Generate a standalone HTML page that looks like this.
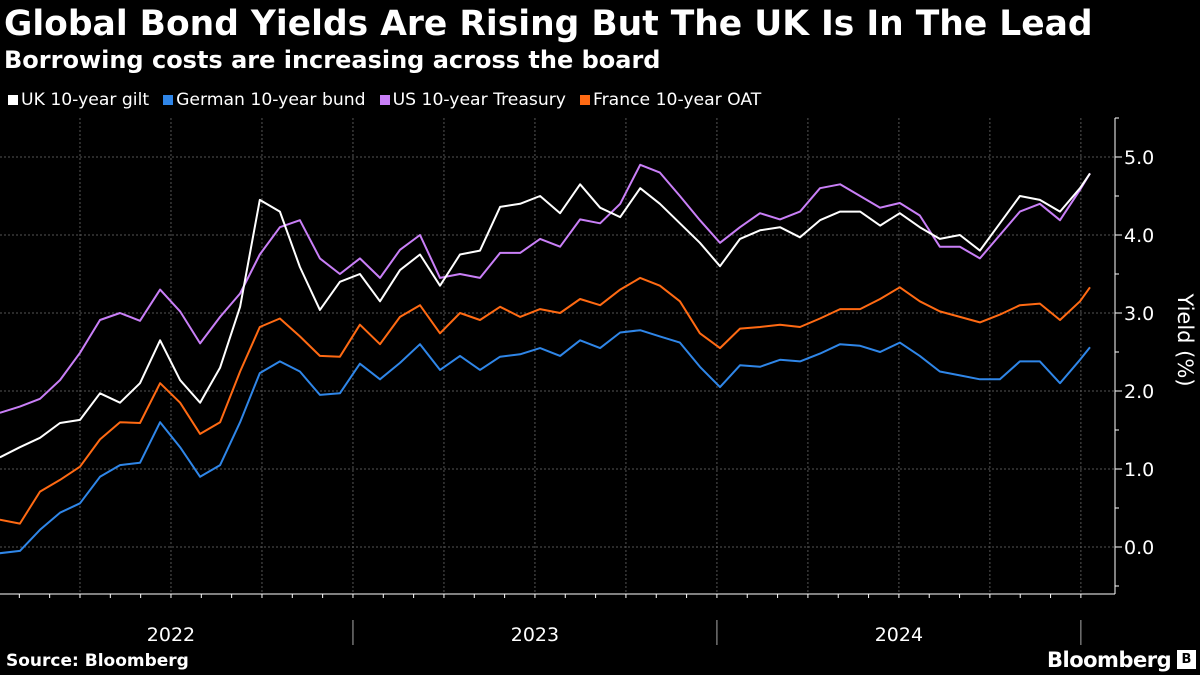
<!DOCTYPE html>
<html>
<head>
<meta charset="utf-8">
<style>
html,body{margin:0;padding:0;background:#000;}
body{width:1200px;height:675px;overflow:hidden;position:relative;font-family:"DejaVu Sans","Liberation Sans",sans-serif;color:#fff;}
#title{position:absolute;left:4px;top:2px;font-size:34.5px;font-weight:bold;white-space:nowrap;line-height:44px;}
#subtitle{position:absolute;left:4px;top:45px;font-size:24px;font-weight:bold;white-space:nowrap;line-height:30px;}
#legend{position:absolute;left:8px;top:89px;font-size:17.2px;white-space:nowrap;display:flex;line-height:22px;}
.li{display:flex;align-items:center;margin-right:14px;}
.sw{width:10px;height:10px;margin-right:3px;display:inline-block;}
#source{position:absolute;left:6px;top:651px;font-size:17px;font-weight:bold;}
#logo{position:absolute;left:1047px;top:648px;font-size:21px;font-weight:bold;letter-spacing:-0.5px;}
#logobox{position:absolute;left:1177px;top:650px;width:19px;height:19px;background:#fff;color:#000;font-size:13px;font-weight:bold;text-align:center;line-height:19px;}
svg{position:absolute;left:0;top:0;}
</style>
</head>
<body>
<div id="title">Global Bond Yields Are Rising But The UK Is In The Lead</div>
<div id="subtitle">Borrowing costs are increasing across the board</div>
<div id="legend">
  <div class="li"><span class="sw" style="background:#ffffff"></span>UK 10-year gilt</div>
  <div class="li"><span class="sw" style="background:#2f86e8"></span>German 10-year bund</div>
  <div class="li"><span class="sw" style="background:#c97ff7"></span>US 10-year Treasury</div>
  <div class="li"><span class="sw" style="background:#ff6a13"></span>France 10-year OAT</div>
</div>
<svg id="chart" width="1200" height="675"></svg>
<div id="source">Source: Bloomberg</div>
<div id="logo">Bloomberg</div>
<div id="logobox">B</div>
<script>
// months since Jan 1 2022
const months = [0.36,1.02,1.68,2.34,3.0,3.66,4.32,4.98,5.64,6.30,6.96,7.62,8.28,8.93,9.59,10.25,10.91,11.57,12.23,12.89,13.55,14.21,14.87,15.53,16.19,16.85,17.51,18.17,18.83,19.49,20.15,20.81,21.47,22.12,22.78,23.44,24.10,24.76,25.42,26.08,26.74,27.40,28.06,28.72,29.38,30.03,30.69,31.35,32.01,32.67,33.33,33.99,34.65,35.31,35.97,36.30];
const ukGilt = [1.15,1.28,1.4,1.59,1.63,1.97,1.85,2.1,2.65,2.14,1.85,2.3,3.08,4.45,4.3,3.59,3.04,3.4,3.5,3.15,3.55,3.75,3.35,3.75,3.8,4.36,4.4,4.5,4.28,4.65,4.35,4.23,4.6,4.4,4.15,3.9,3.6,3.95,4.06,4.1,3.97,4.19,4.3,4.3,4.12,4.28,4.1,3.95,4.0,3.8,4.15,4.5,4.45,4.3,4.6,4.79];
const deBund = [-0.08,-0.05,0.22,0.44,0.56,0.9,1.05,1.08,1.6,1.28,0.9,1.05,1.6,2.23,2.38,2.25,1.95,1.97,2.35,2.15,2.36,2.6,2.27,2.45,2.27,2.44,2.47,2.55,2.45,2.65,2.55,2.75,2.78,2.7,2.62,2.31,2.05,2.33,2.31,2.4,2.38,2.48,2.6,2.58,2.5,2.62,2.45,2.25,2.2,2.15,2.15,2.38,2.38,2.1,2.4,2.56];
const usTreasury = [1.72,1.8,1.9,2.14,2.49,2.91,3.0,2.9,3.3,3.02,2.61,2.95,3.25,3.75,4.1,4.19,3.7,3.5,3.7,3.45,3.81,4.0,3.45,3.5,3.45,3.77,3.77,3.95,3.85,4.2,4.15,4.4,4.9,4.8,4.5,4.19,3.9,4.1,4.28,4.2,4.3,4.6,4.65,4.5,4.35,4.41,4.25,3.85,3.85,3.7,4.0,4.3,4.4,4.19,4.58,4.79];
const frOat = [0.35,0.3,0.71,0.86,1.03,1.38,1.6,1.59,2.1,1.85,1.45,1.6,2.25,2.82,2.93,2.7,2.45,2.44,2.85,2.6,2.95,3.1,2.74,3.0,2.91,3.08,2.95,3.05,3.0,3.18,3.1,3.3,3.45,3.35,3.15,2.74,2.55,2.8,2.82,2.85,2.82,2.93,3.05,3.05,3.18,3.33,3.15,3.02,2.95,2.88,2.98,3.1,3.12,2.91,3.15,3.33];
const yTicks = [0,1,2,3,4,5];
const yTickLabels = ["0.0","1.0","2.0","3.0","4.0","5.0"];
const yearLabels = ["2022","2023","2024"];

const NS="http://www.w3.org/2000/svg";
const svg=document.getElementById('chart');
const X0=-11, PXM=30.33;
const xS=m=>X0+PXM*m;
const yS=v=>547-78*v;
const AXX=1115, TOP=118, BOT=594;
function mk(tag,attrs){const e=document.createElementNS(NS,tag);for(const k in attrs)e.setAttribute(k,attrs[k]);svg.appendChild(e);return e;}

yTicks.forEach((v,i)=>{
  const g=mk('line',{x1:0,x2:AXX,y1:yS(v),y2:yS(v),stroke:'#555','stroke-width':1,'stroke-dasharray':'2,2'});
  
  
  const t=mk('line',{x1:AXX,x2:AXX+7,y1:yS(v),y2:yS(v),stroke:'#fff','stroke-width':1});
  
  
  const l=mk('text',{x:AXX+9,y:yS(v)+7,fill:'#fff','font-size':19,'font-family':'DejaVu Sans, Liberation Sans, sans-serif'});
  l.textContent=yTickLabels[i];
  
  
  const m=mk('line',{x1:AXX,x2:AXX+4,y1:yS(v+0.5),y2:yS(v+0.5),stroke:'#fff','stroke-width':1});
  
  
});
const mm=mk('line',{x1:AXX,x2:AXX+4,y1:yS(-0.5),y2:yS(-0.5),stroke:'#fff','stroke-width':1});


for(let q=1;q<=12;q++){
  const x=xS(q*3);
  const g=mk('line',{x1:x,x2:x,y1:TOP,y2:BOT,stroke:'#555','stroke-width':1,'stroke-dasharray':'2,2'});
  
  
}
const ya=mk('line',{x1:AXX,x2:AXX,y1:TOP,y2:BOT,stroke:'#fff','stroke-width':1});


const xa=mk('line',{x1:0,x2:AXX,y1:BOT,y2:BOT,stroke:'#fff','stroke-width':1});


for(let m=1;m<=36;m++){
  const x=xS(m);
  const t=mk('line',{x1:x,x2:x,y1:BOT,y2:BOT+4,stroke:'#fff','stroke-width':1});
  
  
}
yearLabels.forEach((yl,i)=>{
  const t=mk('text',{x:xS(12*i+6),y:641,fill:'#fff','font-size':19,'text-anchor':'middle','font-family':'DejaVu Sans, Liberation Sans, sans-serif'});
  t.textContent=yl;
  
  
  const s=mk('line',{x1:xS(12*(i+1)),x2:xS(12*(i+1)),y1:620,y2:645,stroke:'#aaa','stroke-width':1});
  
  
});
const yt=mk('text',{x:0,y:0,fill:'#fff','font-size':21,'text-anchor':'middle','font-family':'DejaVu Sans, Liberation Sans, sans-serif',transform:'translate(1178,340) rotate(90)'});
yt.textContent='Yield (%)';



function line(vals,color,name){
  const d=vals.map((v,i)=>(i?'L':'M')+xS(months[i]).toFixed(1)+','+yS(v).toFixed(1)).join(' ');
  const p=mk('path',{d:d,fill:'none',stroke:color,'stroke-width':2,'stroke-linejoin':'round'});
  
  
}
line(deBund,'#2f86e8','german-bund-line');
line(frOat,'#ff6a13','france-oat-line');
line(usTreasury,'#c97ff7','us-treasury-line');
line(ukGilt,'#ffffff','uk-gilt-line');
</script>
</body>
</html>
